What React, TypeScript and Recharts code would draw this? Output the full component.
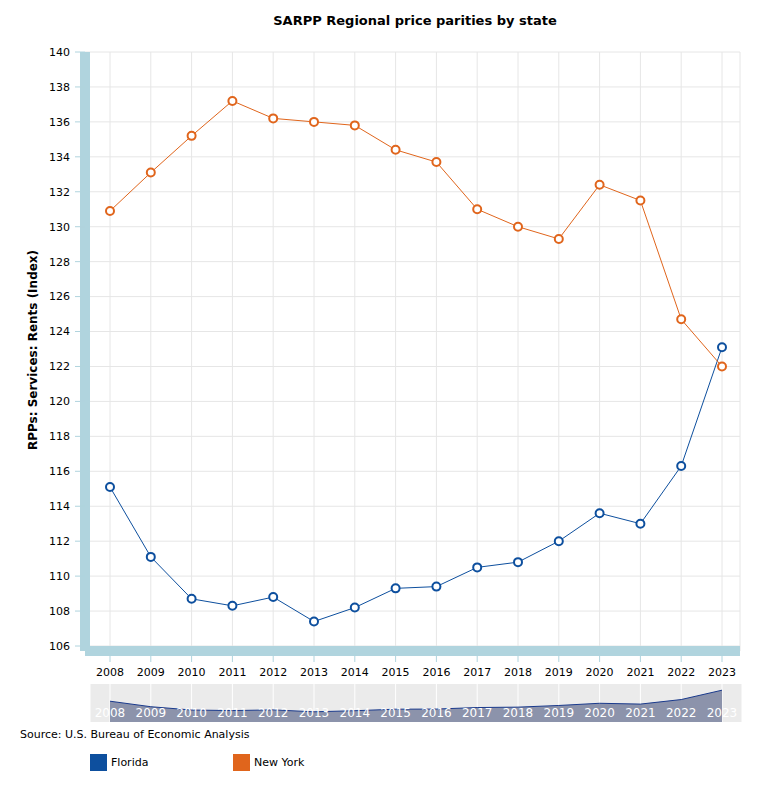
import React from "react";
import {
  LineChart,
  Line,
  AreaChart,
  Area,
  XAxis,
  YAxis,
  CartesianGrid,
} from "recharts";

const years = [
  "2008", "2009", "2010", "2011", "2012", "2013", "2014", "2015",
  "2016", "2017", "2018", "2019", "2020", "2021", "2022", "2023",
];
const florida = [
  115.1, 111.1, 108.7, 108.3, 108.8, 107.4, 108.2, 109.3,
  109.4, 110.5, 110.8, 112.0, 113.6, 113.0, 116.3, 123.1,
];
const newYork = [
  130.9, 133.1, 135.2, 137.2, 136.2, 136.0, 135.8, 134.4,
  133.7, 131.0, 130.0, 129.3, 132.4, 131.5, 124.7, 122.0,
];
const yTicks = [
  106, 108, 110, 112, 114, 116, 118, 120, 122, 124, 126, 128, 130, 132,
  134, 136, 138, 140,
];

const data = years.map((year, i) => ({
  year,
  Florida: florida[i],
  "New York": newYork[i],
}));

const FONT = "'DejaVu Sans', Verdana, sans-serif";
const FL_COLOR = "#0d4f9e";
const NY_COLOR = "#e0651c";
const BAR_COLOR = "#b0d4de";

export default function App() {
  return (
    <div
      style={{
        position: "relative",
        width: 762,
        height: 800,
        margin: -8,
        fontFamily: FONT,
        background: "#fff",
      }}
    >
      <div
        style={{
          position: "absolute",
          left: 90,
          width: 650,
          top: 13,
          textAlign: "center",
          fontSize: 13,
          fontWeight: "bold",
          color: "#000",
        }}
      >
        SARPP Regional price parities by state
      </div>
      <div
        style={{
          position: "absolute",
          left: 33,
          top: 350,
          transform: "translate(-50%, -50%) rotate(-90deg)",
          whiteSpace: "nowrap",
          fontSize: 12,
          fontWeight: "bold",
          color: "#000",
        }}
      >
        RPPs: Services: Rents (Index)
      </div>

      <div style={{ position: "absolute", left: 0, top: 0 }}>
        <LineChart
          width={762}
          height={690}
          data={data}
          margin={{ top: 52, right: 22, bottom: 9, left: 0 }}
        >
          <CartesianGrid stroke="#e6e6e6" />
          <XAxis
            dataKey="year"
            height={30}
            padding={{ left: 25, right: 18 }}
            axisLine={{ stroke: BAR_COLOR, strokeWidth: 10 }}
            tickLine={{ stroke: BAR_COLOR }}
            tickSize={11}
            tickMargin={6}
            tick={{ fill: "#000", fontSize: 11, fontFamily: FONT }}
          />
          <YAxis
            width={85}
            domain={[106, 140]}
            ticks={yTicks}
            padding={{ bottom: 5 }}
            axisLine={{ stroke: BAR_COLOR, strokeWidth: 10 }}
            tickLine={{ stroke: BAR_COLOR }}
            tickSize={10}
            tickMargin={5}
            tick={{ fill: "#000", fontSize: 11, fontFamily: FONT }}
          />
          <Line
            dataKey="Florida"
            stroke={FL_COLOR}
            strokeWidth={1}
            dot={{ r: 4, fill: "#fff", stroke: FL_COLOR, strokeWidth: 2 }}
            isAnimationActive={false}
          />
          <Line
            dataKey="New York"
            stroke={NY_COLOR}
            strokeWidth={1}
            dot={{ r: 4, fill: "#fff", stroke: NY_COLOR, strokeWidth: 2 }}
            isAnimationActive={false}
          />
        </LineChart>
      </div>

      <div style={{ position: "absolute", left: 0, top: 684 }}>
        <AreaChart
          width={762}
          height={38}
          data={data}
          margin={{ top: 0, right: 20, bottom: 0, left: 90 }}
        >
          <CartesianGrid
            horizontal={false}
            stroke="#ffffff"
            fill="#ebebeb"
          />
          <XAxis
            dataKey="year"
            mirror
            padding={{ left: 20, right: 20 }}
            axisLine={false}
            tickLine={false}
            tickSize={3}
            tickMargin={2}
            tick={{ fill: "#ffffff", fontSize: 12, fontFamily: FONT }}
          />
          <YAxis hide domain={[100, 127.6]} />
          <Area
            dataKey="Florida"
            type="linear"
            stroke="#1a3a8c"
            strokeWidth={1}
            fill="#8c93ab"
            fillOpacity={1}
            isAnimationActive={false}
          />
        </AreaChart>
      </div>

      <div
        style={{
          position: "absolute",
          left: 20,
          top: 728,
          fontSize: 11,
          color: "#000",
        }}
      >
        Source: U.S. Bureau of Economic Analysis
      </div>

      <div
        style={{
          position: "absolute",
          left: 90,
          top: 754,
          display: "flex",
          alignItems: "center",
          fontSize: 11,
          color: "#000",
        }}
      >
        {[
          { name: "Florida", color: FL_COLOR },
          { name: "New York", color: NY_COLOR },
        ].map((s) => (
          <div
            key={s.name}
            style={{ display: "flex", alignItems: "center", width: 143 }}
          >
            <span
              style={{
                display: "inline-block",
                width: 17,
                height: 17,
                background: s.color,
                marginRight: 4,
              }}
            />
            {s.name}
          </div>
        ))}
      </div>
    </div>
  );
}
